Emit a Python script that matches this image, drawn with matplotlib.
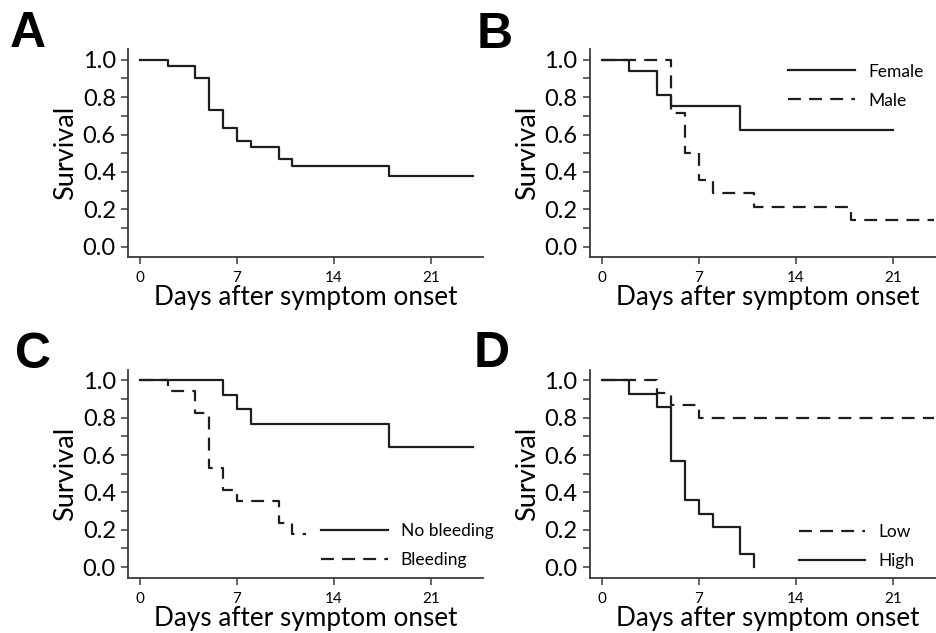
#!/usr/bin/env python3
"""Kaplan-Meier survival curves, 4 panels (A-D)."""
import matplotlib
matplotlib.use("Agg")
import matplotlib.pyplot as plt
import numpy as np

# --- data ---
days_all = [0, 2, 4, 5, 6, 7, 8, 10, 11, 18, 24]
surv_all = [1.0, 0.967, 0.9, 0.733, 0.633, 0.567, 0.533, 0.467, 0.433, 0.38, 0.38]

days_female = [0, 2, 4, 5, 10, 21]
surv_female = [1.0, 0.938, 0.813, 0.75, 0.625, 0.625]
days_male = [0, 5, 6, 7, 8, 11, 18, 24]
surv_male = [1.0, 0.714, 0.5, 0.357, 0.286, 0.214, 0.143, 0.143]

days_nobleed = [0, 6, 7, 8, 18, 24]
surv_nobleed = [1.0, 0.923, 0.846, 0.769, 0.641, 0.641]
days_bleed = [0, 2, 4, 5, 6, 7, 10, 11, 12]
surv_bleed = [1.0, 0.941, 0.824, 0.529, 0.412, 0.353, 0.235, 0.176, 0.176]

days_low = [0, 4, 5, 7, 24]
surv_low = [1.0, 0.933, 0.867, 0.8, 0.8]
days_high = [0, 2, 4, 5, 6, 7, 8, 10, 11]
surv_high = [1.0, 0.929, 0.857, 0.571, 0.357, 0.286, 0.214, 0.071, 0.0]

xticks = [0, 7, 14, 21]
yticks = np.arange(0, 1.01, 0.1)

FONT = "Lato"
plt.rcParams["font.family"] = FONT
LC = "#1e1e1e"
LW = 1.6
DASH = (0, (5.8, 3.7))

W, H = 936, 633
fig = plt.figure(figsize=(W / 100, H / 100), dpi=100)


def px_axes(left, top, right, bottom):
    return fig.add_axes([left / W, 1 - bottom / H, (right - left) / W, (bottom - top) / H])


def style(ax):
    ax.set_xlim(-0.845, 24.77)
    ax.set_ylim(-0.057, 1.056)
    for s in ("top", "right"):
        ax.spines[s].set_visible(False)
    for s in ("left", "bottom"):
        ax.spines[s].set_color("#3a3a3a")
        ax.spines[s].set_linewidth(1.3)
    ax.set_xticks(xticks)
    ax.set_xticklabels([str(t) for t in xticks], fontsize=11)
    ax.set_yticks(yticks)
    ax.set_yticklabels([f"{v:.1f}" if round(v * 10) % 2 == 0 else "" for v in yticks], fontsize=17)
    ax.tick_params(axis="both", direction="out", length=5, width=1.1, color="#3a3a3a")
    ax.tick_params(axis="x", pad=5)
    ax.tick_params(axis="y", pad=4)
    ax.set_xlabel("Days after symptom onset", fontsize=18.8, labelpad=0)
    ax.set_ylabel("Survival", fontsize=19.5, labelpad=3)


axA = px_axes(128.3, 49.3, 483.3, 257.3)
axB = px_axes(590, 49.3, 945, 257.3)
axC = px_axes(128.3, 370, 483.3, 577.7)
axD = px_axes(590, 370, 945, 577.7)

axA.step(days_all, surv_all, where="post", color=LC, lw=LW)

axB.step(days_female, surv_female, where="post", color=LC, lw=LW, label="Female")
axB.step(days_male, surv_male, where="post", color=LC, lw=LW, ls=DASH, label="Male")

axC.step(days_nobleed, surv_nobleed, where="post", color=LC, lw=LW, label="No bleeding")
axC.step(days_bleed, surv_bleed, where="post", color=LC, lw=LW, ls=DASH, label="Bleeding")

axD.step(days_low, surv_low, where="post", color=LC, lw=LW, ls=DASH, label="Low")
axD.step(days_high, surv_high, where="post", color=LC, lw=LW, label="High")

leg_kw = dict(frameon=False, fontsize=12.5, handlelength=3.85, handletextpad=0.75,
              labelspacing=0.75, borderpad=0, borderaxespad=0, loc="upper left")
for ax in (axA, axB, axC, axD):
    style(ax)

axB.legend(bbox_to_anchor=(13.45, 0.98), bbox_transform=axB.transData, **leg_kw)
axC.legend(bbox_to_anchor=(13.05, 0.234), bbox_transform=axC.transData, **leg_kw)
axD.legend(bbox_to_anchor=(14.2, 0.232), bbox_transform=axD.transData, **leg_kw)

for lab, x, y in (("A", 10, 46.7), ("B", 477, 47.7), ("C", 15, 368), ("D", 474, 367)):
    fig.text(x / W, 1 - y / H, lab, fontsize=36, fontweight="bold", ha="left", va="baseline",
             family="Liberation Sans")

fig.savefig("out.png", dpi=100)
